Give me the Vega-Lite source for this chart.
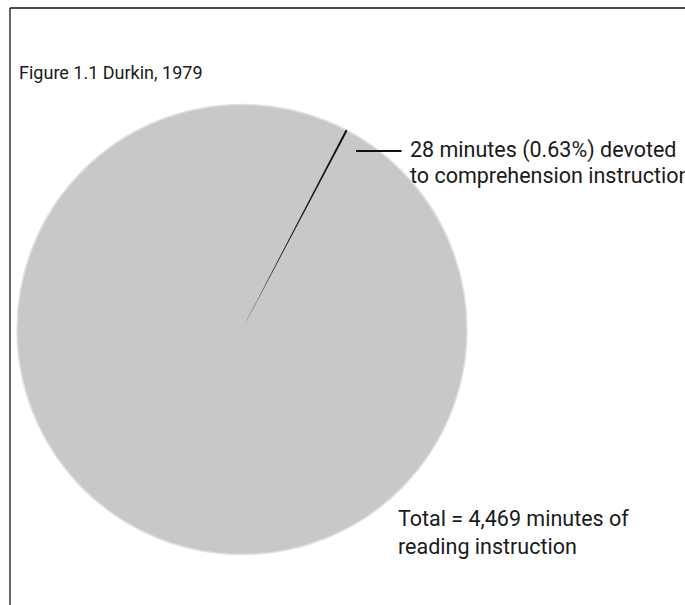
{
  "$schema": "https://vega.github.io/schema/vega-lite/v6.json",
  "width": 450,
  "height": 450,
  "autosize": {"type": "none"},
  "padding": {"left": 17, "top": 104.5, "right": 218, "bottom": 50.5},
  "background": "white",
  "config": {"view": {"stroke": null}},
  "data": {"values": [
    {"segment": "Comprehension instruction", "minutes": 28},
    {"segment": "Other reading instruction", "minutes": 4441}
  ]},
  "layer": [
    {
      "data": {"values": [{"part": "frame"}]},
      "mark": {"type": "rule", "color": "#111111", "strokeWidth": 1.3},
      "encoding": {
        "x": {"datum": -1.0311, "type": "quantitative", "scale": {"domain": [-1, 1], "nice": false, "zero": false}, "axis": null},
        "y": {"datum": 1.4289, "type": "quantitative", "scale": {"domain": [-1, 1], "nice": false, "zero": false}, "axis": null},
        "y2": {"datum": -2}
      }
    },
    {
      "data": {"values": [{"part": "frame"}]},
      "mark": {"type": "rule", "color": "#111111", "strokeWidth": 1.3},
      "encoding": {
        "x": {"datum": -1.0311, "type": "quantitative", "scale": {"domain": [-1, 1], "nice": false, "zero": false}, "axis": null},
        "x2": {"datum": 3},
        "y": {"datum": 1.4289, "type": "quantitative", "scale": {"domain": [-1, 1], "nice": false, "zero": false}, "axis": null}
      }
    },
    {
      "transform": [{"aggregate": [{"op": "sum", "field": "minutes", "as": "total"}]}],
      "mark": {"type": "arc", "fill": "#c7c8ca", "stroke": "#dfe0e2", "strokeWidth": 1.5},
      "encoding": {
        "theta": {"field": "total", "type": "quantitative", "stack": true}
      }
    },
    {
      "mark": {"type": "arc", "padAngle": 0.03, "thetaOffset": 0.4638, "theta2Offset": 0.4638},
      "encoding": {
        "theta": {"field": "minutes", "type": "quantitative", "stack": true},
        "order": {"field": "minutes", "type": "quantitative", "sort": "ascending"},
        "color": {"field": "segment", "type": "nominal", "scale": {"domain": ["Comprehension instruction", "Other reading instruction"], "range": ["#111111", "rgba(0,0,0,0)"]}, "legend": null}
      }
    },
    {
      "data": {"values": [{"part": "leader"}]},
      "mark": {"type": "rule", "color": "#111111", "strokeWidth": 2},
      "encoding": {
        "x": {"datum": 0.5067, "type": "quantitative", "scale": {"domain": [-1, 1], "nice": false, "zero": false}, "axis": null},
        "x2": {"datum": 0.7089},
        "y": {"datum": 0.7933, "type": "quantitative", "scale": {"domain": [-1, 1], "nice": false, "zero": false}, "axis": null}
      }
    },
    {
      "data": {"values": [{"label": "Figure 1.1 Durkin, 1979"}]},
      "mark": {"type": "text", "align": "left", "baseline": "alphabetic", "font": "Roboto", "fontSize": 18, "color": "#1a1a1a"},
      "encoding": {
        "text": {"field": "label"},
        "x": {"datum": -0.991, "type": "quantitative", "scale": {"domain": [-1, 1], "nice": false, "zero": false}, "axis": null},
        "y": {"datum": 1.1133, "type": "quantitative", "scale": {"domain": [-1, 1], "nice": false, "zero": false}, "axis": null}
      }
    },
    {
      "data": {"values": [{"label": "28 minutes (0.63%) devoted\nto comprehension instruction"}]},
      "mark": {"type": "text", "align": "left", "baseline": "alphabetic", "font": "Roboto", "fontSize": 21.5, "lineBreak": "\n", "lineHeight": 26, "color": "#1a1a1a"},
      "encoding": {
        "text": {"field": "label"},
        "x": {"datum": 0.7467, "type": "quantitative", "scale": {"domain": [-1, 1], "nice": false, "zero": false}, "axis": null},
        "y": {"datum": 0.7667, "type": "quantitative", "scale": {"domain": [-1, 1], "nice": false, "zero": false}, "axis": null}
      }
    },
    {
      "data": {"values": [{"label": "Total = 4,469 minutes of\nreading instruction"}]},
      "mark": {"type": "text", "align": "left", "baseline": "alphabetic", "font": "Roboto", "fontSize": 21.5, "lineBreak": "\n", "lineHeight": 28, "color": "#1a1a1a"},
      "encoding": {
        "text": {"field": "label"},
        "x": {"datum": 0.6933, "type": "quantitative", "scale": {"domain": [-1, 1], "nice": false, "zero": false}, "axis": null},
        "y": {"datum": -0.875, "type": "quantitative", "scale": {"domain": [-1, 1], "nice": false, "zero": false}, "axis": null}
      }
    }
  ]
}
